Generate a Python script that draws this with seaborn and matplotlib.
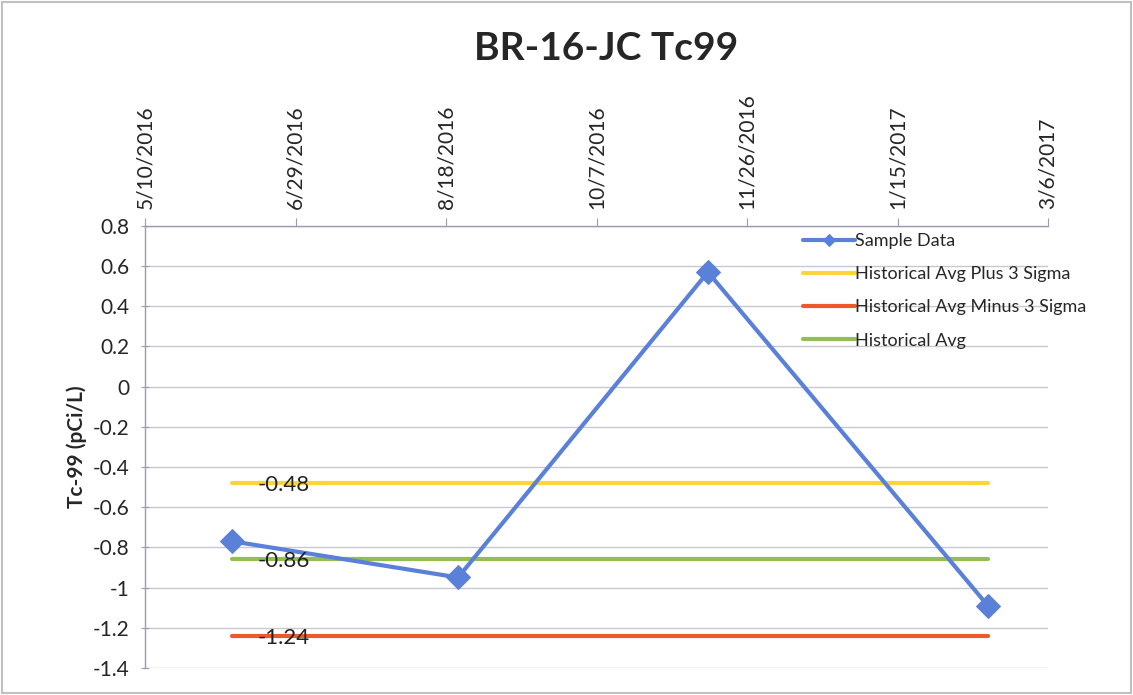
import numpy as np
import pandas as pd
import matplotlib
matplotlib.use("Agg")
import matplotlib.pyplot as plt
import matplotlib.dates as mdates
import seaborn as sns

# data
sample_dates = ["2016-06-08", "2016-08-22", "2016-11-13", "2017-02-14"]
sample_values = [-0.77, -0.95, 0.57, -1.09]
avg_plus_3sigma = -0.48
avg_minus_3sigma = -1.24
hist_avg = -0.86
x_ticks = ["2016-05-10", "2016-06-29", "2016-08-18", "2016-10-07",
           "2016-11-26", "2017-01-15", "2017-03-06"]
y_ticks = [0.8, 0.6, 0.4, 0.2, 0, -0.2, -0.4, -0.6, -0.8, -1, -1.2, -1.4]

blue = "#5b80d8"
yellow = "#ffd43b"
orange = "#eb5a2b"
green = "#93bf52"

sns.set_style("white")
plt.rcParams['font.family'] = ['Lato', 'DejaVu Sans']

dates = pd.to_datetime(sample_dates)
sample_df = pd.DataFrame({"date": dates, "value": sample_values})
span = [dates.min(), dates.max()]

fig = plt.figure(figsize=(11.33, 6.95), dpi=100)
ax = fig.add_axes([0.128, 0.039, 0.797, 0.636])

# gridlines first so they sit under the data
for v in y_ticks:
    ax.axhline(v, color="#c8c8d4", lw=1, zorder=0)

sns.lineplot(data=sample_df, x="date", y="value", ax=ax, color=blue, lw=3,
             marker="D", markersize=12, markeredgecolor=blue,
             label="Sample Data", zorder=4)
sns.lineplot(x=span, y=[avg_plus_3sigma] * 2, ax=ax, color=yellow, lw=3,
             label="Historical Avg Plus 3 Sigma", zorder=3)
sns.lineplot(x=span, y=[avg_minus_3sigma] * 2, ax=ax, color=orange, lw=3,
             label="Historical Avg Minus 3 Sigma", zorder=3)
sns.lineplot(x=span, y=[hist_avg] * 2, ax=ax, color=green, lw=3,
             label="Historical Avg", zorder=3)

# value labels beside the start of each reference line
for v in [avg_plus_3sigma, hist_avg, avg_minus_3sigma]:
    ax.text(dates.min() + pd.Timedelta(days=17), v - 0.01, f"{v:.2f}",
            fontsize=16, color="#222222", ha="center", va="center", zorder=5)

tick_dates = pd.to_datetime(x_ticks)
ax.set_xlim(tick_dates[0], tick_dates[-1])
ax.set_ylim(-1.4, 0.8)
ax.set_xticks(tick_dates)
ax.xaxis.set_major_formatter(
    matplotlib.ticker.FuncFormatter(
        lambda x, pos: f"{mdates.num2date(x).month}/{mdates.num2date(x).day}/{mdates.num2date(x).year}"))
ax.xaxis.tick_top()
ax.tick_params(axis="x", top=True, bottom=False, labeltop=True, labelbottom=False,
               rotation=90, labelsize=15, length=6, color="#9a9ab0", pad=6)
ax.set_yticks(y_ticks)
ax.set_yticklabels(["0.8", "0.6", "0.4", "0.2", "0", "-0.2", "-0.4", "-0.6",
                    "-0.8", "-1", "-1.2", "-1.4"])
ax.tick_params(axis="y", left=True, labelsize=15, length=6, color="#9a9ab0",
               direction="inout", pad=8)
for lab in ax.get_xticklabels():
    lab.set_ha("center")

ax.set_xlabel("")
ax.set_ylabel("Tc-99 (pCi/L)", fontsize=15, fontweight="bold", labelpad=4)

for side in ["right", "bottom"]:
    ax.spines[side].set_visible(False)
for side in ["top", "left"]:
    ax.spines[side].set_color("#9a9ab0")
    ax.spines[side].set_linewidth(1)

ax.legend(loc="upper left", bbox_to_anchor=(0.702, 0.675),
          bbox_transform=fig.transFigure, frameon=False, fontsize=13,
          handlelength=2.9, handletextpad=0.0, labelspacing=0.95,
          borderaxespad=0, markerscale=0.5)

fig.suptitle("BR-16-JC Tc99", fontsize=28, fontweight="bold", x=0.535, y=0.955)

fig.patches.append(plt.Rectangle((0.002, 0.003), 0.996, 0.994,
                                 transform=fig.transFigure, fill=False,
                                 edgecolor="#c0c0c0", lw=1.5))

plt.savefig("out.png", dpi=100)
